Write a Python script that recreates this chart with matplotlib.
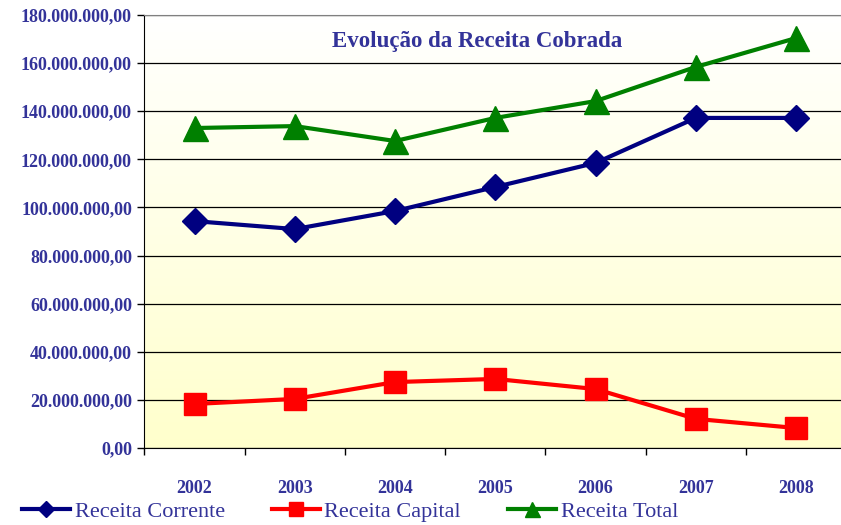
import matplotlib
matplotlib.use("Agg")
import matplotlib.pyplot as plt
import numpy as np
from matplotlib.ticker import FuncFormatter, FixedLocator
from matplotlib.colors import LinearSegmentedColormap

years = ["2002", "2003", "2004", "2005", "2006", "2007", "2008"]
receita_corrente = [94.3e6, 91.0e6, 98.5e6, 108.5e6, 118.5e6, 137.2e6, 137.2e6]
receita_capital = [18.3e6, 20.4e6, 27.4e6, 28.7e6, 24.5e6, 12.1e6, 8.3e6]
receita_total = [133.0e6, 133.8e6, 127.6e6, 137.2e6, 144.2e6, 158.4e6, 170.4e6]
series_names = ["Receita Corrente", "Receita Capital", "Receita Total"]
title = "Evolução da Receita Cobrada"

txt_color = "#333399"
fig = plt.figure(figsize=(8.41, 5.25), dpi=100)
ax = fig.add_axes([0.1718, 0.1467, 0.8344, 0.8248])

x = np.arange(len(years))
ax.set_xlim(-0.5, len(years) - 0.5)
ax.set_ylim(0, 180e6)

# gradient background
grad = np.linspace(0, 1, 256).reshape(-1, 1)
cmap = LinearSegmentedColormap.from_list("g", ["#FFFFCC", "#FFFFFF"])
ax.imshow(grad, extent=[0, 1, 0, 1], transform=ax.transAxes, aspect="auto",
          cmap=cmap, origin="lower", zorder=0)

ax.yaxis.set_major_locator(FixedLocator(np.arange(0, 180e6 + 1, 20e6)))
ax.grid(axis="y", color="black", linewidth=0.9, zorder=1)
ax.set_axisbelow(True)

l1, = ax.plot(x, receita_corrente, color="#000080", lw=3, marker="D", ms=13,
              label=series_names[0], zorder=3, clip_on=False)
l2, = ax.plot(x, receita_capital, color="#FF0000", lw=3, marker="s", ms=16,
              label=series_names[1], zorder=3, clip_on=False)
l3, = ax.plot(x, receita_total, color="#008000", lw=3, marker="^", ms=18,
              label=series_names[2], zorder=3, clip_on=False)

def fmt(v, pos):
    s = f"{v:,.2f}"
    return s.replace(",", "X").replace(".", ",").replace("X", ".")
ax.yaxis.set_major_formatter(FuncFormatter(fmt))

ax.set_xticks(x)
ax.set_xticklabels(years)
ax.set_xticks(np.arange(-0.5, len(years)), minor=True)
ax.tick_params(axis="x", which="major", length=0, pad=23)
ax.tick_params(axis="x", which="minor", length=5, width=1, color="black", direction="out")
ax.tick_params(axis="y", length=5, width=1, direction="out", pad=4)

for lab in ax.get_xticklabels() + ax.get_yticklabels():
    lab.set_fontfamily("Liberation Serif")
    lab.set_fontweight("bold")
    lab.set_fontsize(13)
    lab.set_color(txt_color)

ax.spines["right"].set_visible(False)
ax.spines["top"].set_color("#808080")
ax.spines["left"].set_color("black")
ax.spines["bottom"].set_color("black")

ax.text(0.474, 0.938, title, transform=ax.transAxes, ha="center", va="center",
        fontfamily="Liberation Serif", fontweight="bold", fontsize=16.5, color=txt_color)

leg = fig.legend(handles=[l1, l2, l3], loc="center left", bbox_to_anchor=(0.026, 0.026),
                 ncol=3, frameon=False, markerscale=0.6, handlelength=2.16,
                 handletextpad=0.22, columnspacing=2.1, borderpad=0, borderaxespad=0,
                 prop={"family": "Liberation Serif", "size": 16})
for t in leg.get_texts():
    t.set_color(txt_color)

fig.savefig("out.png", dpi=100)
